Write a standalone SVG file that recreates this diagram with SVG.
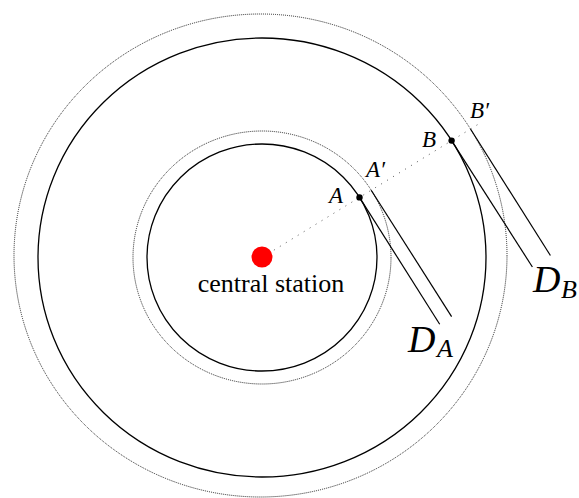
<svg xmlns="http://www.w3.org/2000/svg" width="579" height="498" viewBox="0 0 579 498">
  <style>
    .solid { fill: none; stroke: #000; stroke-width: 1.3; }
    .dotc { fill: none; stroke: #222; stroke-width: 1; stroke-dasharray: 1 1; }
    .radial { fill: none; stroke: #555; stroke-width: 1; stroke-dasharray: 1 6; }
    .tan { fill: none; stroke: #000; stroke-width: 1.2; }
    text { font-family: 'Liberation Serif', 'DejaVu Serif', serif; fill: #000; }
    .lbl { font-style: italic; }
  </style>
  <rect width="579" height="498" fill="#fff"/>
  <g id="rings">
    <ellipse class="solid" cx="262" cy="257.5" rx="115" ry="113.5"/>
    <ellipse class="dotc" cx="262" cy="257.5" rx="129" ry="126.5"/>
    <ellipse class="solid" cx="262" cy="257.5" rx="224" ry="219.5"/>
    <ellipse class="dotc" cx="260.5" cy="255.5" rx="246.5" ry="241.5"/>
  </g>
  <g id="connectors">
    <line class="radial" x1="262" y1="257.5" x2="482" y2="121.9"/>
    <line class="tan" x1="359.5" y1="197.4" x2="439.7" y2="324.2"/>
    <line class="tan" x1="371.2" y1="190.2" x2="451.6" y2="316.6"/>
    <line class="tan" x1="451.6" y1="140.6" x2="532.4" y2="267"/>
    <line class="tan" x1="470.5" y1="129" x2="550.4" y2="255.5"/>
  </g>
  <g id="node-station">
    <circle cx="262" cy="257" r="10.5" fill="#ff0000"/>
    <text x="271" y="292" font-size="26" text-anchor="middle">central station</text>
  </g>
  <g id="node-A">
    <circle cx="359.5" cy="197.4" r="3.2" fill="#000"/>
    <text class="lbl" x="329" y="203" font-size="23">A</text>
  </g>
  <g id="node-A-prime">
    <text class="lbl" x="366" y="176.5" font-size="23">A′</text>
  </g>
  <g id="node-B">
    <circle cx="451.6" cy="140.6" r="3.2" fill="#000"/>
    <text class="lbl" x="422" y="147" font-size="23">B</text>
  </g>
  <g id="node-B-prime">
    <text class="lbl" x="470" y="118" font-size="23">B′</text>
  </g>
  <g id="node-DA">
    <text class="lbl" x="408" y="352" font-size="38">D</text>
    <text class="lbl" x="437" y="357" font-size="26">A</text>
  </g>
  <g id="node-DB">
    <text class="lbl" x="533" y="292" font-size="38">D</text>
    <text class="lbl" x="561" y="297.5" font-size="26">B</text>
  </g>
</svg>
